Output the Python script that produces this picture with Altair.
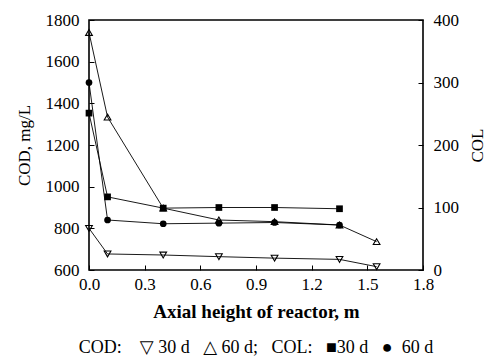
import altair as alt
import pandas as pd

heights = [0.0, 0.1, 0.4, 0.7, 1.0, 1.35, 1.55]
cod_30d = [800, 677, 672, 664, 657, 651, 616]
cod_60d = [1740, 1334, 897, 840, 832, 816, 736]
col_heights = [0.0, 0.1, 0.4, 0.7, 1.0, 1.35]
col_30d = [251, 117, 99, 100, 100, 98]
col_60d = [300, 80, 74, 75, 76, 72]

cod_df = pd.DataFrame(
    [{"h": h, "v": v, "s": "COD 30 d"} for h, v in zip(heights, cod_30d)]
    + [{"h": h, "v": v, "s": "COD 60 d"} for h, v in zip(heights, cod_60d)]
)
col_df = pd.DataFrame(
    [{"h": h, "v": v, "s": "COL 30 d"} for h, v in zip(col_heights, col_30d)]
    + [{"h": h, "v": v, "s": "COL 60 d"} for h, v in zip(col_heights, col_60d)]
)

FONT = "Liberation Serif, Times New Roman, DejaVu Serif, serif"

xenc = alt.X(
    "h:Q",
    scale=alt.Scale(domain=[0, 1.8], nice=False),
    axis=alt.Axis(
        title="Axial height of reactor, m",
        values=[0, 0.3, 0.6, 0.9, 1.2, 1.5, 1.8],
        format=".1f",
        offset=-5,
        tickSize=5,
        domain=False,
        labelFlush=False,
        labelPadding=6,
        titlePadding=10,
        titleFontSize=19,
        titleFontWeight="bold",
    ),
)

cod_y = alt.Y(
    "v:Q",
    scale=alt.Scale(domain=[600, 1800], nice=False),
    axis=alt.Axis(
        title="COD, mg/L",
        values=[600, 800, 1000, 1200, 1400, 1600, 1800],
        format="d",
        orient="left",
        offset=-5,
        tickSize=5,
        domain=False,
        labelFlush=False,
        labelPadding=10,
        titlePadding=12,
    ),
)
col_y = alt.Y(
    "v:Q",
    scale=alt.Scale(domain=[0, 400], nice=False),
    axis=alt.Axis(
        title="COL",
        values=[0, 100, 200, 300, 400],
        format="d",
        orient="right",
        offset=-5,
        tickSize=5,
        domain=False,
        labelFlush=False,
        labelPadding=10,
        titlePadding=11,
        titleAngle=270,
        titleBaseline="top",
    ),
)

cod_base = alt.Chart(cod_df)
cod_lines = cod_base.mark_line(color="black", strokeWidth=0.9).encode(
    x=xenc, y=cod_y, detail="s:N"
)
cod_pts = cod_base.mark_point(color="black", filled=False, size=45, strokeWidth=1.1, opacity=1).encode(
    x=xenc,
    y=cod_y,
    shape=alt.Shape(
        "s:N",
        scale=alt.Scale(domain=["COD 30 d", "COD 60 d"], range=["triangle-down", "triangle-up"]),
        legend=None,
    ),
)
col_base = alt.Chart(col_df)
col_lines = col_base.mark_line(color="black", strokeWidth=0.9).encode(
    x=xenc, y=col_y, detail="s:N"
)
col_pts = col_base.mark_point(color="black", filled=True, size=45, opacity=1).encode(
    x=xenc,
    y=col_y,
    shape=alt.Shape(
        "s:N",
        scale=alt.Scale(domain=["COL 30 d", "COL 60 d"], range=["square", "circle"]),
        legend=None,
    ),
)

NB = "\u00a0"
legend_text = (
    f"COD:{NB * 4}\u25bd{NB}30 d{NB * 3}\u25b3{NB}60 d;{NB * 3}COL:{NB * 3}\u25a030 d{NB * 3}\u25cf{NB * 2}60 d"
)

chart = (
    alt.layer(
        alt.layer(cod_lines, cod_pts),
        alt.layer(col_lines, col_pts),
    )
    .resolve_scale(y="independent", shape="independent")
    .properties(
        width=334,
        height=250,
        autosize=alt.AutoSizeParams(type="none"),
        padding={"left": 89, "top": 20, "right": 70, "bottom": 89},
        title=alt.TitleParams(
            legend_text,
            orient="bottom",
            offset=18,
            fontSize=18,
            font=FONT,
            fontWeight="normal",
            color="black",
        ),
    )
    .configure_view(stroke="black", strokeWidth=1.6)
    .configure_axis(
        labelFont=FONT,
        titleFont=FONT,
        labelFontSize=17,
        titleFontSize=17,
        labelColor="black",
        titleColor="black",
        tickColor="black",
        tickWidth=1,
        grid=False,
        labelFontWeight="normal",
        titleFontWeight="normal",
    )
)

chart.save("out.html", embed_options={"renderer": "svg", "actions": False})
